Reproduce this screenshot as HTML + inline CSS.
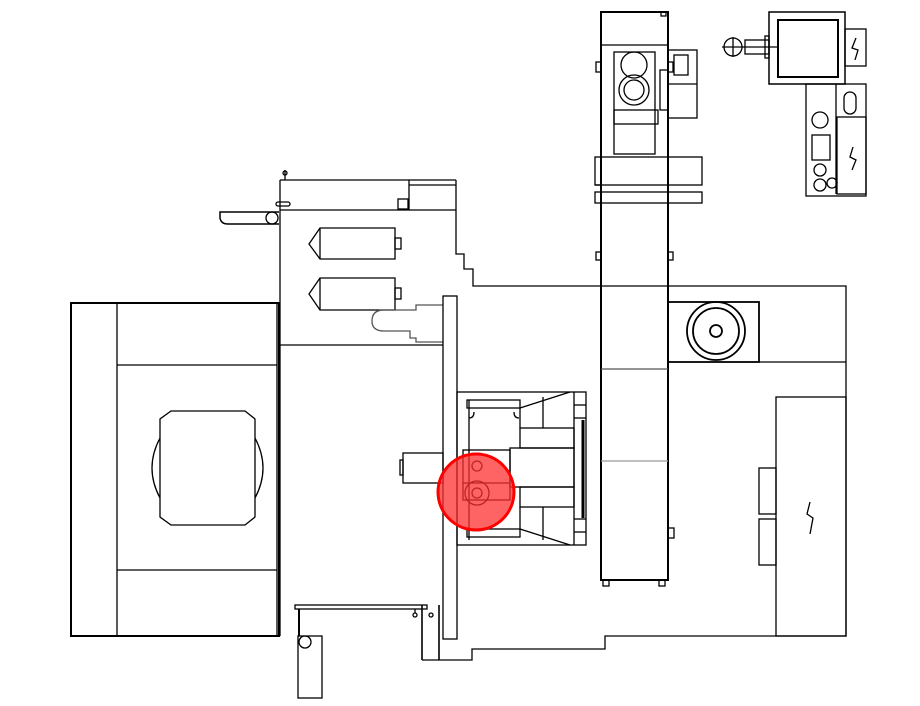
<!DOCTYPE html>
<html><head><meta charset="utf-8"><style>html,body{margin:0;padding:0;background:#fff}svg{display:block}</style></head>
<body>
<svg width="920" height="706" viewBox="0 0 920 706" xmlns="http://www.w3.org/2000/svg">
<g fill="none" stroke="#000" stroke-width="1.3">
<!-- main outline right -->
<polyline points="456,180 456,254 464,254 464,269 473,269 473,286 846,286 846,636 605,636 605,649 472,649 472,660 422,660"/>
<!-- top box -->
<line x1="280" y1="180" x2="456" y2="180"/>
<line x1="409" y1="185" x2="456" y2="185"/>
<line x1="409" y1="180" x2="409" y2="210"/>
<line x1="280" y1="210" x2="456" y2="210"/>
<rect x="398" y="199" width="10" height="10"/>
<line x1="280" y1="180" x2="280" y2="636"/>
<line x1="280" y1="345" x2="443" y2="345"/>
<line x1="285" y1="170" x2="285" y2="180"/><circle cx="285" cy="173" r="2"/>
<rect x="276" y="202" width="14" height="4" rx="2"/>
<!-- left bracket -->
<path d="M279,212 L220,212 L220,218 Q221,224 228,224 L279,224" stroke-width="1.5"/>
<circle cx="272" cy="218" r="6"/>
<!-- cylinders -->
<path d="M320,228 L395,228 L395,259 L320,259 L309,244 Z"/>
<line x1="320" y1="228" x2="320" y2="259"/>
<rect x="395" y="238" width="6" height="11"/>
<path d="M320,278 L395,278 L395,310 L320,310 L309,294 Z"/>
<line x1="320" y1="278" x2="320" y2="310"/>
<rect x="395" y="288" width="6" height="11"/>
<path d="M443,305 L416,305 L416,310 L384,310 Q372,310 372,321 Q372,331 384,331 L410,331 L410,338 L416,338 L416,342 L443,342" stroke="#555"/>
<!-- plate -->
<rect x="443" y="296" width="14" height="343"/>
<!-- left big box -->
<rect x="71" y="303" width="208" height="333" stroke-width="2"/>
<line x1="117" y1="303" x2="117" y2="636"/>
<line x1="277" y1="303" x2="277" y2="636"/>
<line x1="117" y1="365" x2="277" y2="365"/>
<line x1="117" y1="570" x2="277" y2="570"/>
<path d="M171,411 L245,411 L255,419 L255,517 L245,525 L171,525 L160,517 L160,419 Z"/>
<path d="M160,438 Q144,468 160,498"/>
<path d="M255,438 Q271,468 255,498"/>
<!-- bottom bench -->
<rect x="295" y="605" width="132" height="4"/>
<line x1="299" y1="609" x2="299" y2="636" stroke-width="2"/>
<rect x="298" y="636" width="24" height="62"/>
<circle cx="305" cy="642" r="6"/>
<line x1="422" y1="605" x2="422" y2="660" stroke-width="1.6"/>
<line x1="439" y1="605" x2="439" y2="660" stroke-width="1.6"/>
<circle cx="415" cy="615" r="2"/><line x1="415" y1="609" x2="415" y2="613"/>
<circle cx="431" cy="615" r="2"/>
<!-- small cylinder -->
<rect x="403" y="453" width="40" height="30"/>
<rect x="400" y="460" width="3" height="15"/>
<!-- mold -->
<rect x="457" y="392" width="129" height="153"/>
<line x1="469" y1="400" x2="469" y2="540"/>
<rect x="467" y="400" width="53" height="8"/>
<rect x="467" y="529" width="53" height="8"/>
<polyline points="520,408 570,392"/>
<polyline points="520,529 570,545"/>
<line x1="520" y1="408" x2="520" y2="428"/>
<line x1="520" y1="507" x2="520" y2="529"/>
<line x1="543" y1="397" x2="543" y2="428"/>
<line x1="543" y1="507" x2="543" y2="540"/>
<line x1="574" y1="392" x2="574" y2="545"/>
<rect x="520" y="428" width="54" height="20"/>
<rect x="510" y="448" width="64" height="39"/>
<rect x="520" y="487" width="54" height="20"/>
<path d="M469,418 Q474,418 474,412"/><path d="M514,412 Q514,418 519,418"/>
<rect x="463" y="450" width="47" height="50"/>
<line x1="463" y1="483" x2="510" y2="483"/>
<line x1="574" y1="405" x2="586" y2="405"/><line x1="574" y1="418" x2="586" y2="418"/>
<line x1="574" y1="519" x2="586" y2="519"/><line x1="574" y1="532" x2="586" y2="532"/>
<line x1="583" y1="420" x2="583" y2="518" stroke-width="3"/>
<circle cx="477" cy="466" r="5"/>
<circle cx="477" cy="493" r="12"/><circle cx="477" cy="493" r="5"/>
<!-- column -->
<rect x="601" y="12" width="67" height="568" stroke-width="2"/>
<line x1="601" y1="45" x2="668" y2="45"/>
<line x1="601" y1="369" x2="668" y2="369" stroke="#555"/>
<line x1="601" y1="461" x2="668" y2="461" stroke="#999"/>
<rect x="603" y="580" width="6" height="6"/><rect x="659" y="580" width="6" height="6"/>
<rect x="661" y="12" width="5" height="4"/>
<rect x="614" y="52" width="41" height="102"/>
<rect x="614" y="110" width="44" height="14"/>
<circle cx="634" cy="65" r="13"/>
<circle cx="634" cy="90" r="15"/><circle cx="634" cy="90" r="10"/>
<rect x="668" y="50" width="29" height="68"/>
<rect x="674" y="55" width="14" height="20"/>
<line x1="668" y1="84" x2="697" y2="84"/>
<rect x="660" y="70" width="8" height="40"/>
<rect x="596" y="62" width="5" height="10"/><rect x="668" y="62" width="5" height="10"/>
<rect x="595" y="157" width="107" height="28"/>
<line x1="595" y1="185" x2="601" y2="185"/>
<rect x="595" y="192" width="107" height="11"/>
<rect x="596" y="252" width="5" height="8"/><rect x="668" y="252" width="5" height="8"/>
<rect x="668" y="528" width="6" height="10"/>
<!-- circle box -->
<rect x="668" y="302" width="91" height="60" stroke-width="1.8"/>
<line x1="759" y1="362" x2="846" y2="362"/>
<circle cx="716" cy="331" r="29" stroke-width="1.8"/><circle cx="716" cy="331" r="23" stroke-width="1.8"/><circle cx="716" cy="331" r="6" stroke-width="1.8"/>
<!-- electrical cabinet -->
<rect x="776" y="397" width="70" height="239"/>
<rect x="759" y="468" width="17" height="46"/>
<rect x="759" y="519" width="17" height="46"/>
<path d="M810,502 L807,514 L813,518 L810,534" stroke-width="1.3"/>
<!-- top right -->
<rect x="769" y="12" width="76" height="72" stroke-width="1.5"/>
<rect x="778" y="20" width="60" height="57" stroke-width="2"/>
<rect x="845" y="29" width="21" height="37"/>
<path d="M856,38 L852,48 L858,50 L855,60"/>
<rect x="745" y="40" width="24" height="14"/>
<rect x="765" y="36" width="4" height="22"/>
<circle cx="733" cy="47" r="9"/>
<line x1="722" y1="47" x2="778" y2="47"/><line x1="733" y1="37" x2="733" y2="57"/>
<rect x="806" y="84" width="60" height="112"/>
<rect x="837" y="117" width="29" height="77"/>
<rect x="844" y="92" width="12" height="22" rx="6"/>
<path d="M853,147 L850,157 L856,160 L852,170"/>
<line x1="836" y1="84" x2="836" y2="194"/>
<circle cx="820" cy="120" r="8"/>
<circle cx="820" cy="170" r="6"/><circle cx="820" cy="185" r="6"/><circle cx="832" cy="183" r="5"/>
<rect x="812" y="135" width="18" height="25"/>
</g>
<circle cx="476" cy="492" r="38" fill="#ff3030" fill-opacity="0.75" stroke="#f00" stroke-width="3"/>
</svg>
</body></html>
